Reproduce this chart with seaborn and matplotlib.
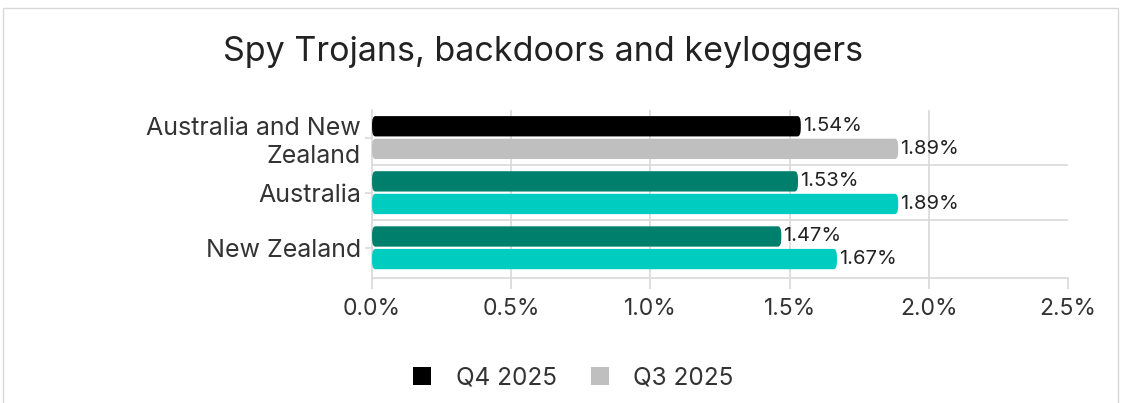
import matplotlib
matplotlib.use("Agg")
import matplotlib.pyplot as plt
from matplotlib.patches import Rectangle, FancyBboxPatch
from matplotlib.ticker import FuncFormatter
import seaborn as sns
import pandas as pd

# Data
regions = ["Australia and New Zealand", "Australia", "New Zealand"]
region_labels = ["Australia and New\nZealand", "Australia", "New Zealand"]
periods = ["Q4 2025", "Q3 2025"]
q4_values = [1.54, 1.53, 1.47]
q3_values = [1.89, 1.89, 1.67]
x_ticks = [0.0, 0.5, 1.0, 1.5, 2.0, 2.5]

# Colours: first region in black/grey, the others in teal shades
region_colors = {
    "Australia and New Zealand": ("#000000", "#BFBFBF"),
    "Australia": ("#00806C", "#00CCC0"),
    "New Zealand": ("#00806C", "#00CCC0"),
}
legend_colors = ["#000000", "#BFBFBF"]

df = pd.DataFrame({
    "region": regions * 2,
    "period": [periods[0]] * 3 + [periods[1]] * 3,
    "value": q4_values + q3_values,
})

sns.set_theme(style="white")
plt.rcParams["font.family"] = ["Inter", "DejaVu Sans"]

fig = plt.figure(figsize=(11.22, 4.03), dpi=100)
ax = fig.add_axes([0.3316, 0.31, 0.6203, 0.417])

sns.barplot(data=df, y="region", x="value", hue="period", order=regions,
            hue_order=periods, orient="h", width=0.82, gap=0.1,
            palette=legend_colors, legend=False, ax=ax, saturation=1)

# Recolour bars per region and round their corners
grid_c = "#D9D9D9"
for ci, container in enumerate(ax.containers):
    for ri, bar in enumerate(container):
        color = region_colors[regions[ri]][ci]
        x0, y0 = bar.get_x(), bar.get_y()
        w, h = bar.get_width(), bar.get_height()
        bar.set_visible(False)
        rb = FancyBboxPatch((x0, y0), w, h,
                            boxstyle="round,pad=0,rounding_size=0.012",
                            mutation_aspect=h / 0.03,
                            facecolor=color, edgecolor="none", zorder=3)
        ax.add_patch(rb)
        ax.text(x0 + w + 0.008, y0 + h / 2, f"{w:.2f}%", ha="left",
                va="center", fontsize=14.5, color="#222222", zorder=4)

ax.set_xlim(0, 2.5)
ax.set_ylim(2.55, -0.5)
ax.set_xticks(x_ticks)
ax.xaxis.set_major_formatter(FuncFormatter(lambda v, p: f"{v:.1f}%"))
ax.set_yticks(range(len(regions)))
ax.set_yticklabels(region_labels, fontsize=18, color="#333333",
                   linespacing=1.25)
ax.tick_params(axis="x", labelsize=16.5, labelcolor="#333333", length=8,
               width=1.2, color=grid_c, direction="out", pad=6, bottom=True)
ax.tick_params(axis="y", length=5, width=1.2, color=grid_c, direction="out",
               pad=3, left=True)
ax.set_xlabel("")
ax.set_ylabel("")

# Gridlines
for xv in x_ticks[1:-1]:
    ax.axvline(xv, color=grid_c, lw=1.2, zorder=0)
for yv in [0.5, 1.5]:
    ax.axhline(yv, color=grid_c, lw=1.2, zorder=0)

for side in ["top", "right"]:
    ax.spines[side].set_visible(False)
ax.spines["left"].set_color(grid_c)
ax.spines["left"].set_linewidth(1.2)
ax.spines["bottom"].set_color(grid_c)
ax.spines["bottom"].set_linewidth(1.2)

fig.text(0.484, 0.87, "Spy Trojans, backdoors and keyloggers", ha="center",
         va="center", fontsize=24.5, color="#222222")

# Legend
handles = [Rectangle((0, 0), 1, 1, facecolor=c, edgecolor="none")
           for c in legend_colors]
fig.legend(handles, periods, loc="center", bbox_to_anchor=(0.511, 0.062),
           ncol=2, frameon=False, fontsize=17.5, handlelength=0.75,
           handleheight=0.75, handletextpad=1.0, columnspacing=1.4,
           labelcolor="#333333")

# Outer border
fig.patches.append(Rectangle((0.003, -0.01), 0.993, 0.99,
                             transform=fig.transFigure, fill=False,
                             edgecolor="#D9D9D9", lw=1.0))

fig.savefig("out.png", dpi=100)
